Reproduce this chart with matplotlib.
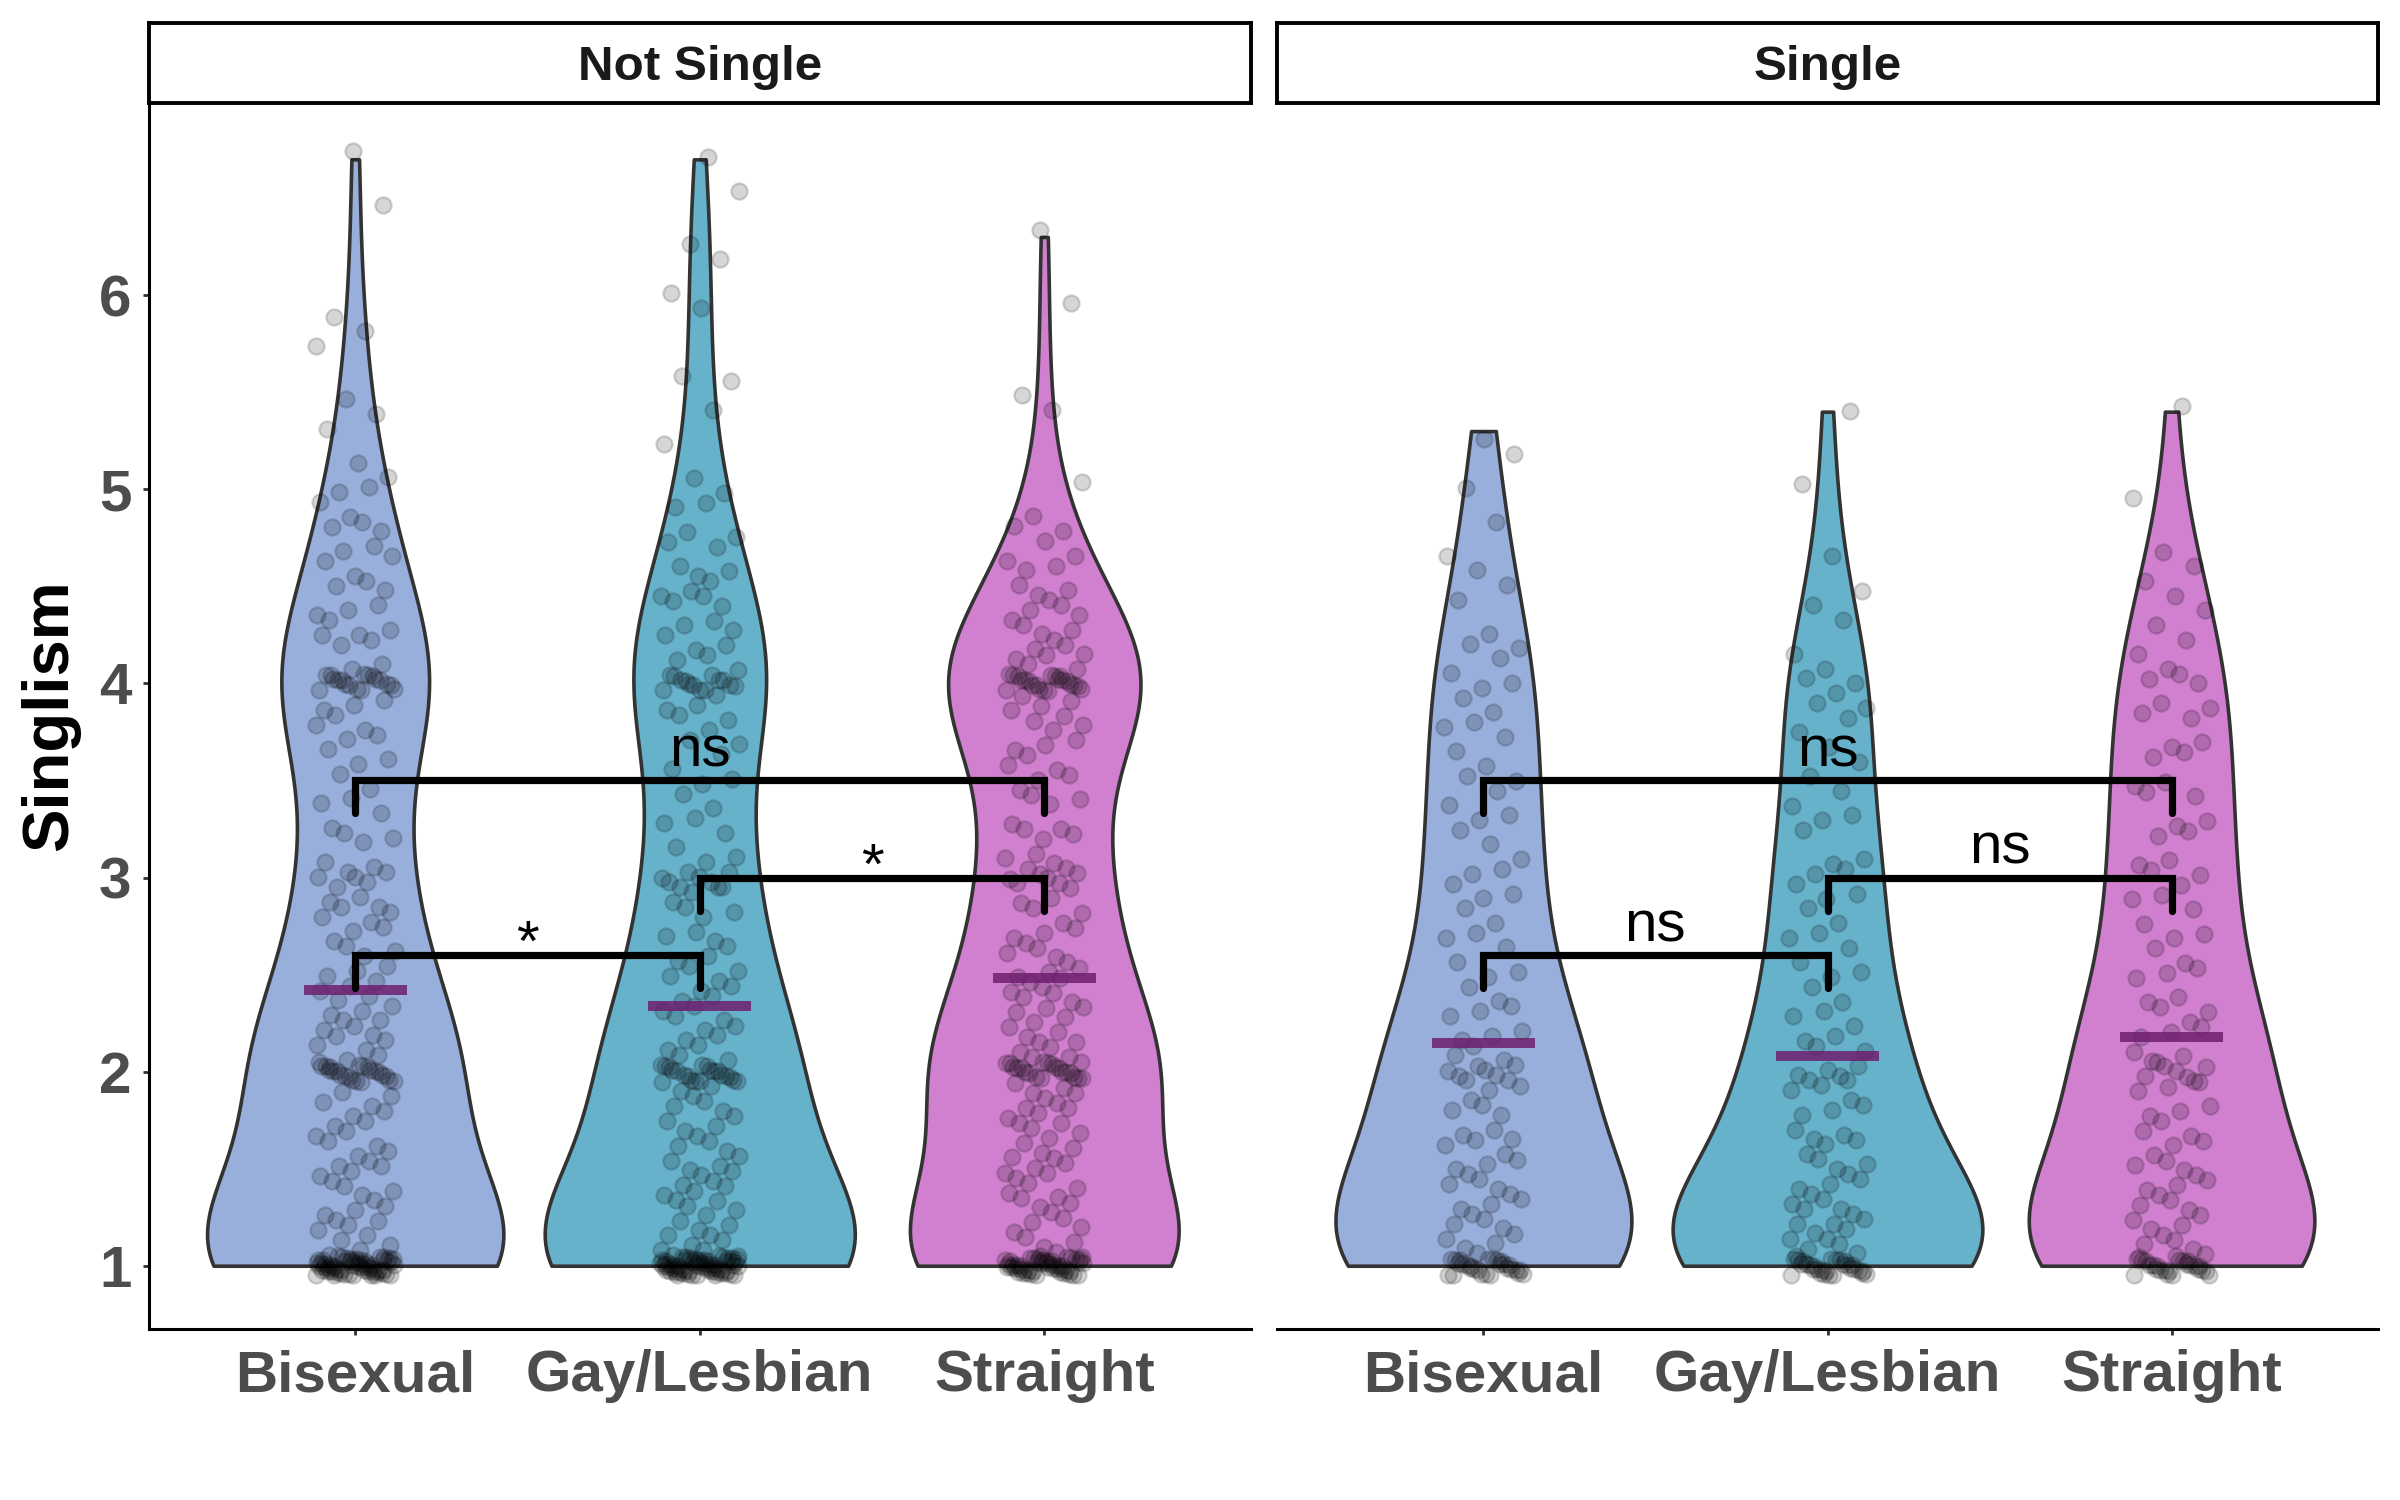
import numpy as np
import matplotlib
matplotlib.use("Agg")
import matplotlib.pyplot as plt

plt.rcParams['font.family'] = ['Liberation Sans', 'DejaVu Sans']

# ---------------- data ----------------
panels = ["Not Single", "Single"]
groups = ["Bisexual", "Gay/Lesbian", "Straight"]
fills = ["#98AFDC", "#66B2CB", "#D17FCF"]

# value grid for binned scores 1.0 .. 4.9
grid = [1.0, 1.1, 1.2, 1.3, 1.4, 1.5, 1.6, 1.7, 1.8, 1.9,
        2.0, 2.1, 2.2, 2.3, 2.4, 2.5, 2.6, 2.7, 2.8, 2.9,
        3.0, 3.1, 3.2, 3.3, 3.4, 3.5, 3.6, 3.7, 3.8, 3.9,
        4.0, 4.1, 4.2, 4.3, 4.4, 4.5, 4.6, 4.7, 4.8, 4.9]

ns_bi_counts = [62, 4, 5, 4, 4, 5, 4, 4, 4, 3,
                22, 4, 5, 5, 4, 4, 3, 3, 4, 3,
                6, 2, 3, 2, 2, 2, 2, 3, 3, 3,
                18, 2, 3, 3, 3, 3, 2, 3, 3, 2]
ns_bi_tail = [5.0, 5.0, 5.1, 5.1, 5.3, 5.4, 5.5, 5.7, 5.8, 5.9, 6.5, 6.7]

ns_gay_counts = [65, 5, 5, 5, 5, 5, 4, 4, 4, 4,
                 20, 4, 4, 4, 4, 4, 3, 3, 3, 3,
                 8, 2, 2, 2, 2, 2, 2, 2, 3, 3,
                 14, 3, 3, 3, 3, 3, 3, 2, 2, 2]
ns_gay_tail = [5.0, 5.1, 5.2, 5.4, 5.6, 5.6, 5.9, 6.0, 6.2, 6.3, 6.5, 6.7]

ns_str_counts = [50, 4, 4, 4, 4, 5, 5, 5, 5, 5,
                 20, 5, 5, 5, 5, 5, 4, 4, 3, 3,
                 8, 3, 3, 2, 3, 3, 3, 3, 4, 4,
                 22, 4, 4, 4, 4, 3, 3, 2, 2, 1]
ns_str_tail = [5.0, 5.4, 5.5, 6.0, 6.3]

s_bi_counts = [28, 4, 4, 4, 4, 4, 3, 3, 3, 3,
               8, 3, 3, 3, 2, 2, 2, 2, 2, 2,
               3, 1, 2, 2, 2, 2, 2, 1, 2, 2,
               2, 2, 2, 1, 1, 1, 1, 1, 1, 0]
s_bi_tail = [5.0, 5.2, 5.3]

s_gay_counts = [30, 5, 5, 5, 4, 4, 3, 3, 3, 3,
                6, 2, 3, 2, 2, 2, 2, 2, 2, 2,
                3, 2, 1, 2, 2, 1, 1, 2, 1, 2,
                3, 1, 1, 1, 1, 1, 0, 1, 0, 0]
s_gay_tail = [5.0, 5.4]

s_str_counts = [26, 4, 4, 4, 4, 4, 3, 3, 3, 3,
                7, 3, 3, 3, 2, 3, 2, 2, 2, 2,
                3, 2, 2, 2, 2, 2, 2, 2, 2, 2,
                3, 1, 2, 1, 1, 2, 1, 1, 0, 0]
s_str_tail = [5.0, 5.4]

counts = [[ns_bi_counts, ns_gay_counts, ns_str_counts],
          [s_bi_counts, s_gay_counts, s_str_counts]]
tails = [[ns_bi_tail, ns_gay_tail, ns_str_tail],
         [s_bi_tail, s_gay_tail, s_str_tail]]

# group means (purple bars)
ns_means = [2.42, 2.34, 2.48]
s_means = [2.15, 2.08, 2.18]
means = [ns_means, s_means]

# significance brackets: (group a, group b, height, label)
ns_sig = [(1, 2, 2.6, "*"), (2, 3, 3.0, "*"), (1, 3, 3.5, "ns")]
s_sig = [(1, 2, 2.6, "ns"), (2, 3, 3.0, "ns"), (1, 3, 3.5, "ns")]
sigs = [ns_sig, s_sig]

# violin max widths (category units)
ns_widths = [0.86, 0.90, 0.78]
s_widths = [0.86, 0.90, 0.83]
widths = [ns_widths, s_widths]

yticks = [1, 2, 3, 4, 5, 6]

# ---------------- figure ----------------
W, H, DPI = 2400, 1500, 200
fig = plt.figure(figsize=(W / DPI, H / DPI), dpi=DPI)

ax_bottom = 0.114
ax_h = 0.9313 - ax_bottom
strip_h = 0.9847 - 0.9313
lefts = [148.5 / W, 1277 / W]
ax_w = [(1251 - 148.5) / W, (2378 - 1277) / W]

label_gray = "#4D4D4D"
GOLD = 0.6180339887
PLAST = 0.7548776662


def nrd0_factor(x):
    x = np.asarray(x, float)
    sd = np.std(x, ddof=1)
    iqr = np.subtract(*np.percentile(x, [75, 25]))
    lo = min(sd, iqr / 1.34) if iqr > 0 else sd
    h = 0.9 * lo * len(x) ** (-0.2)
    return h / sd


for p, pname in enumerate(panels):
    ax = fig.add_axes([lefts[p], ax_bottom, ax_w[p], ax_h])
    sax = fig.add_axes([lefts[p], 0.9313, ax_w[p], strip_h])
    sax.set_xticks([]); sax.set_yticks([])
    for s in sax.spines.values():
        s.set_linewidth(1.4); s.set_color("black")
    sax.text(0.5, 0.45, pname, ha="center", va="center", fontsize=17.8,
             fontweight="bold", color="#1A1A1A", transform=sax.transAxes)

    for g in range(3):
        data = np.concatenate([np.repeat(grid, counts[p][g]), tails[p][g]])
        pos = g + 1
        vp = ax.violinplot([data], positions=[pos], widths=widths[p][g],
                           showmeans=False, showextrema=False, showmedians=False,
                           bw_method=nrd0_factor(data), points=200)
        for b in vp["bodies"]:
            b.set_facecolor(fills[g]); b.set_edgecolor("#333333")
            b.set_alpha(1); b.set_linewidth(1.3); b.set_zorder(1)
        # jittered points (deterministic jitter)
        idx = np.arange(len(data))
        xo = ((idx * GOLD + 0.37 * g + 0.11 * p) % 1.0 - 0.5) * 2 * 0.115
        yo = ((idx * PLAST + 0.23 * g) % 1.0 - 0.5) * 2 * 0.05
        ax.scatter(pos + xo, data + yo, s=34, facecolor="black", edgecolor="black",
                   linewidths=0.8, alpha=0.16, zorder=2)
        # mean bar
        ax.hlines(means[p][g], pos - 0.15, pos + 0.15, color="#6E1F6E", alpha=0.85,
                  linewidth=3.6, zorder=3)

    tip = 0.17
    for (a, b, yb, lab) in sigs[p]:
        ax.plot([a, a, b, b], [yb - tip, yb, yb, yb - tip], color="black", lw=2.6,
                solid_capstyle="round", solid_joinstyle="miter", zorder=4)
        off = 0.072 if lab == "ns" else -0.03
        ax.text((a + b) / 2, yb + off, lab, ha="center", va="baseline", fontsize=21,
                color="black", zorder=5)

    ax.set_xlim(0.4, 3.6)
    ax.set_ylim(0.674, 6.99)
    ax.set_xticks([1, 2, 3])
    ax.set_xticklabels(groups, fontsize=21, fontweight="bold", color=label_gray)
    ax.tick_params(axis="x", length=2.2, width=1.0, color="#333333", pad=5)
    for s in ["top", "right"]:
        ax.spines[s].set_visible(False)
    ax.spines["bottom"].set_linewidth(1.1)
    if p == 0:
        ax.spines["left"].set_linewidth(1.1)
        ax.set_yticks(yticks)
        ax.set_yticklabels([str(t) for t in yticks], fontsize=21, fontweight="bold",
                           color=label_gray)
        ax.tick_params(axis="y", length=2.2, width=1.0, color="#333333", pad=4)
    else:
        ax.spines["left"].set_visible(False)
        ax.set_yticks([])

fig.text(0.021, 0.523, "Singlism", rotation=90, ha="center", va="center",
         fontsize=23.5, fontweight="bold", color="black")

fig.savefig("out.png", dpi=DPI, facecolor="white")
